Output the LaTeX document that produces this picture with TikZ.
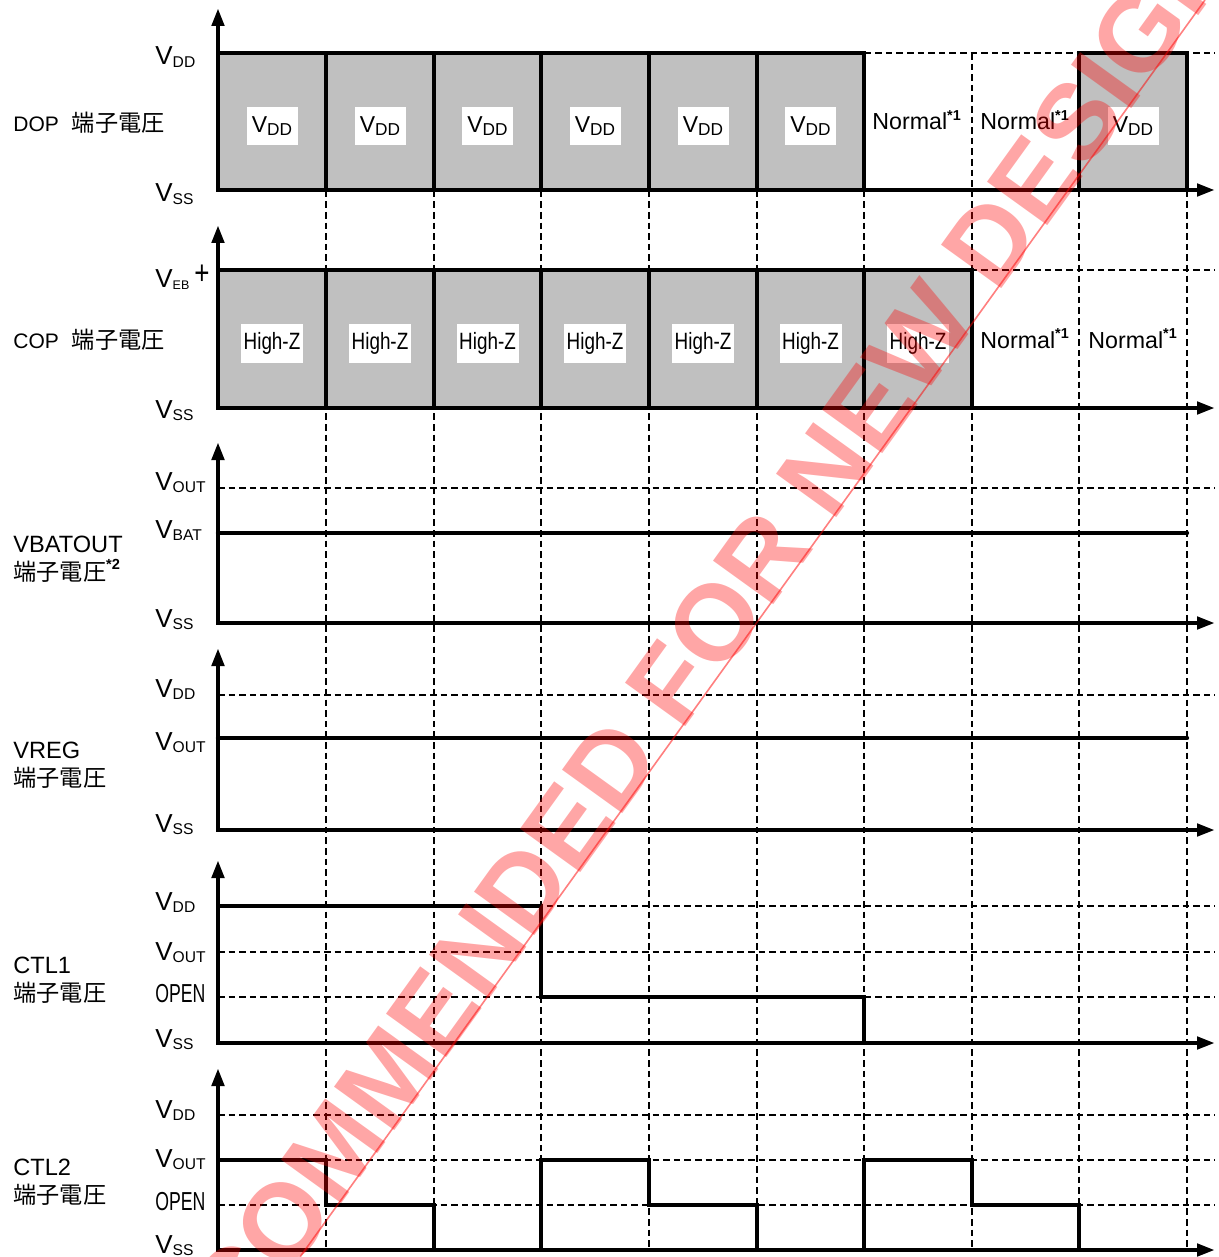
\documentclass[tikz,border=0pt]{standalone}
\usepackage{graphicx}
\usepackage{fontspec}
\setmainfont{Liberation Sans}
\newfontfamily\jpfont{Noto Sans CJK JP}
\newfontfamily\narrowfont[FakeStretch=0.8]{Liberation Sans}
\newfontfamily\narrowerfont[FakeStretch=0.68]{Liberation Sans}
\usetikzlibrary{arrows.meta}
\definecolor{cellgray}{RGB}{192,192,192}
\newcommand{\volt}[2][0.6]{V\raisebox{-0.1em}{\scalebox{#1}{#2}}}
\newcommand{\starnote}[1]{\raisebox{0.43em}{\scalebox{0.62}{\bfseries *#1}}}
\newcommand{\tanshi}{{\jpfont\fontsize{11.6}{14}\selectfont 端子電圧}}
\begin{document}
\begin{tikzpicture}[x=0.5pt, y=-0.5pt,
    gridline/.style={dash pattern=on 3.3pt off 2pt, line width=1pt},
    sig/.style={line width=2.2pt},
    axisline/.style={line width=2.2pt, line cap=rect, -{Triangle[length=9pt,width=6pt]}},
    cell/.style={fill=cellgray, draw=black, line width=2.2pt},
    vbox/.style={fill=white, inner sep=0pt, minimum width=25.5pt, minimum height=19pt, font=\fontsize{11.5}{13}\selectfont},
    zbox/.style={fill=white, inner sep=0pt, minimum width=31pt, minimum height=19.5pt, font=\narrowfont\fontsize{11.8}{13}\selectfont},
    lvl/.style={anchor=base west, inner sep=0pt, font=\fontsize{13}{15}\selectfont},
    pinname/.style={anchor=base west, inner sep=0pt, font=\fontsize{11.8}{14}\selectfont},
    normtext/.style={anchor=base west, inner sep=0pt, font=\fontsize{11.6}{14}\selectfont},
    wmtext/.style={rotate=54.2, anchor=base, inner sep=0pt, text=red, text opacity=0.35, font=\fontsize{54}{54}\selectfont\bfseries},
    wmline/.style={red, opacity=0.5, line width=0.8pt}]
    \useasboundingbox (0,0) rectangle (1219,1257);
        \foreach \x in {326,434,541,649,757,864,972,1079,1187}
            \draw[gridline] (\x,53) -- (\x,1250);
        \foreach \y in {53,270,488,695,906,952,997,1115,1160,1205}
            \draw[gridline] (218,\y) -- (1215,\y);
        \foreach \a/\b in {218/326,326/434,434/541,541/649,649/757,757/864,1079/1187}
            \draw[cell] (\a,53) rectangle (\b,190);
        \foreach \a/\b in {218/326,326/434,434/541,541/649,649/757,757/864,864/972}
            \draw[cell] (\a,270) rectangle (\b,408);
        \foreach \lo/\hi in {190/8,408/225,623/442,830/648,1043/860,1250/1068} {
            \draw[axisline] (218,\lo) -- (218,\hi);
            \draw[axisline] (218,\lo) -- (1215,\lo);
        }
        \draw[sig, line cap=round] (218,533) -- (1187,533);
        \draw[sig, line cap=round] (218,738) -- (1187,738);
        \draw[sig] (218,906) -- (541,906) -- (541,997) -- (864,997) -- (864,1043);
        \draw[sig] (218,1160) -- (326,1160) -- (326,1205) -- (434,1205) -- (434,1250)
            -- (541,1250) -- (541,1160) -- (649,1160) -- (649,1205) -- (757,1205) -- (757,1250)
            -- (864,1250) -- (864,1160) -- (972,1160) -- (972,1205) -- (1079,1205) -- (1079,1250);
        \foreach \c [count=\i] in {272,380,487.5,595,703,810.5,1133}
            \node[vbox] (dop\i) at (\c,126) {\volt[0.75]{DD}};
        \foreach \c [count=\i] in {272,380,487.5,595,703,810.5,918}
            \node[zbox] (cop\i) at (\c,343) {High-Z};
        \node[normtext] (dopn1) at (872,130) {Normal\starnote{1}};
        \node[normtext] (dopn2) at (980,130) {Normal\starnote{1}};
        \node[normtext] (copn1) at (980,348) {Normal\starnote{1}};
        \node[normtext] (copn2) at (1088,348) {Normal\starnote{1}};
        \foreach \y/\t [count=\i] in {65/\volt{DD}, 202/\volt{SS}, 287/{\volt[0.48]{EB}\kern2.5pt\raisebox{1.2pt}{\scalebox{1}[1.3]{+}}},
            418/\volt{SS}, 490/\volt{OUT}, 538/\volt{BAT}, 627/\volt{SS}, 697/\volt{DD}, 750/\volt{OUT},
            832/\volt{SS}, 910/\volt{DD}, 960/\volt{OUT}, 1002/{\narrowerfont OPEN}, 1047/\volt{SS},
            1118/\volt{DD}, 1167/\volt{OUT}, 1210/{\narrowerfont OPEN}, 1253/\volt{SS}}
            \node[lvl] (lvl\i) at (155,\y) {\t};
        \node[pinname, font=\fontsize{10.5}{12}\selectfont] (dop) at (13,132) {DOP\hspace{6.5pt}\tanshi};
        \node[pinname, font=\fontsize{10.5}{12}\selectfont] (cop) at (13,348) {COP\hspace{6.5pt}\tanshi};
        \node[pinname] (vbat) at (13,552) {VBATOUT};
        \node[pinname] (vbatj) at (13,580) {\tanshi\starnote{2}};
        \node[pinname] (vreg) at (13,758) {VREG};
        \node[pinname] (vregj) at (13,786) {\tanshi};
        \node[pinname] (ctla) at (13,973) {CTL1};
        \node[pinname] (ctlaj) at (13,1001) {\tanshi};
        \node[pinname] (ctlb) at (13,1175) {CTL2};
        \node[pinname] (ctlbj) at (13,1203) {\tanshi};
        \begin{scope}
            \clip (0,0) rectangle (1219,1257);
            \coordinate (wma) at (300,1257);
            \coordinate (wmb) at (1205,0);
            \draw[wmline] (wma) -- (wmb);
            \node[wmtext] (wm) at (622,815) {NOT RECOMMENDED FOR NEW DESIGN};
        \end{scope}
    \end{tikzpicture}
\end{document}
